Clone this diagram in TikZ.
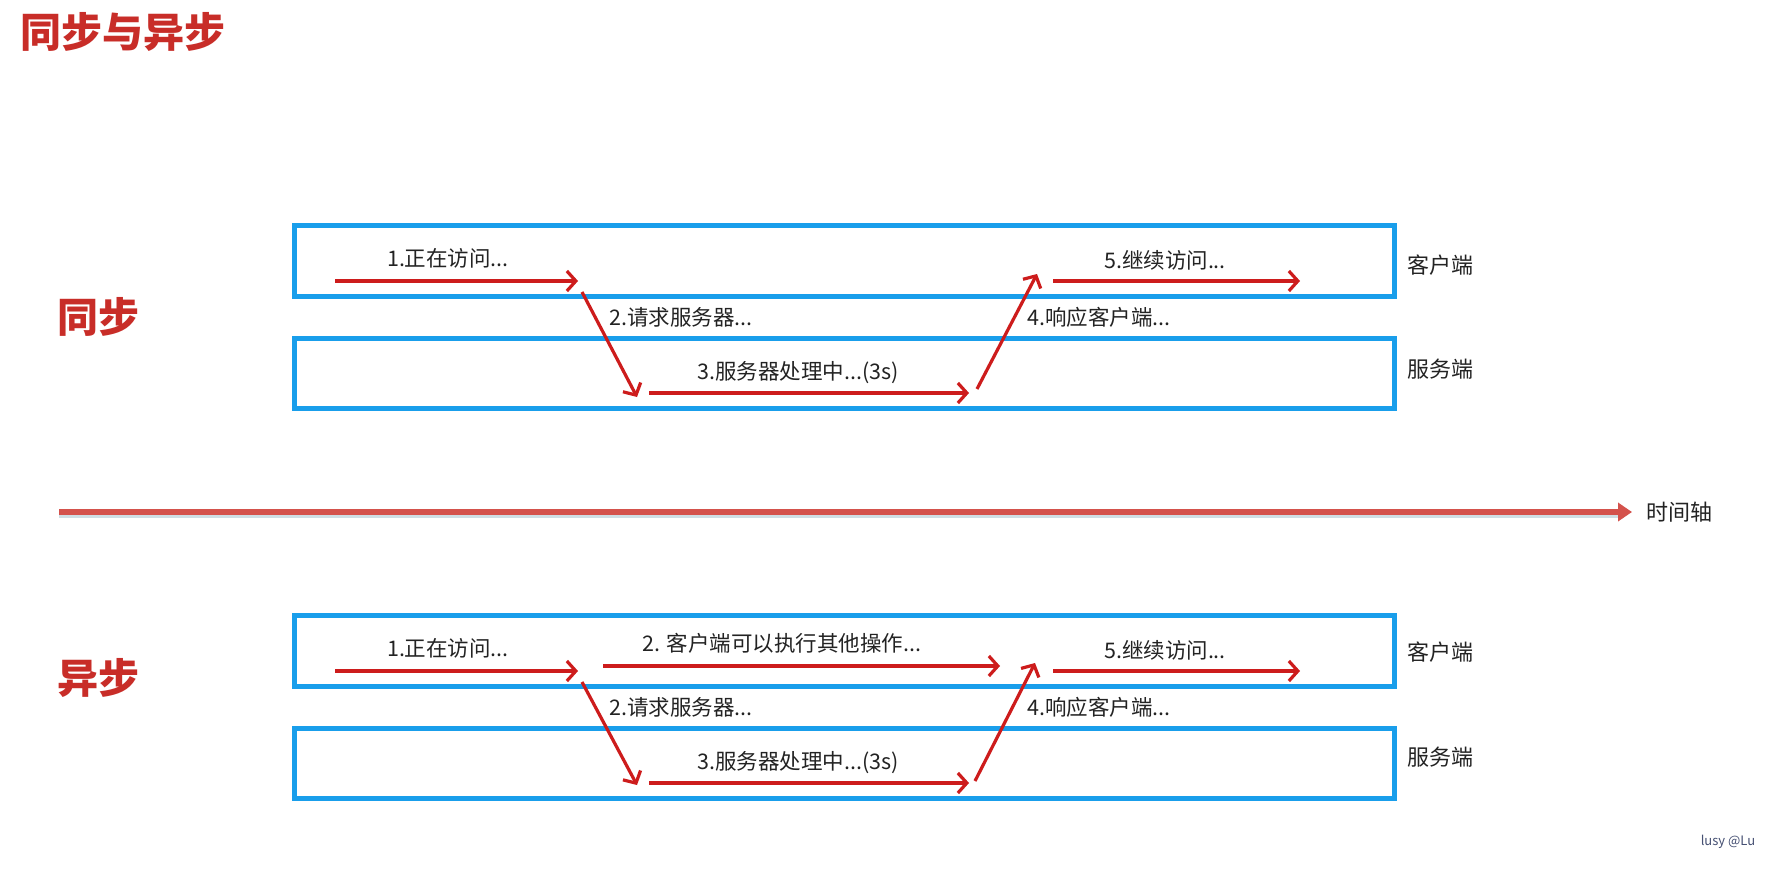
\documentclass[tikz,border=0pt]{standalone}
\usepackage{fontspec}
\setmainfont{Noto Sans CJK SC}
\usetikzlibrary{arrows.meta}
\definecolor{boxblue}{RGB}{25,158,235}
\definecolor{arrred}{RGB}{205,28,28}
\definecolor{titlered}{RGB}{200,45,40}
\definecolor{axisred}{RGB}{212,82,76}
\definecolor{axisshadow}{RGB}{175,200,210}
\definecolor{txt}{RGB}{35,35,35}
\definecolor{mark}{RGB}{70,80,115}
\begin{document}
\begin{tikzpicture}[x=1pt,y=-1pt,
 lane/.style={draw=boxblue,line width=4.5pt,minimum width=1100pt,inner sep=0pt,anchor=north west},
 flow/.style={draw=arrred,line width=3.2pt,-{Straight Barb[length=9pt,width=20pt]}},
 lbl/.style={font=\fontsize{21.5}{24}\selectfont,text=txt,inner sep=0pt},
 side/.style={font=\fontsize{22}{26}\selectfont,text=txt,inner sep=0pt},
 big/.style={font=\fontsize{41}{48}\selectfont\bfseries,text=titlered,inner sep=0pt}]
\useasboundingbox (0,0) rectangle (1777,870);
\fill[white] (0,0) rectangle (1777,870);

% title and section labels
\node[big,anchor=west] (title) at (20,32) {同步与异步};
\node[big] (sync) at (98,317) {同步};
\node[big] (async) at (98,678) {异步};

% lanes
\node[lane,minimum height=71pt] (sc) at (292,223) {};
\node[lane,minimum height=70pt] (ss) at (292,336) {};
\node[lane,minimum height=71pt] (ac) at (292,613) {};
\node[lane,minimum height=70pt] (as) at (292,726) {};
\node[side] (scl) at (1440,265) {客户端};
\node[side] (ssl) at (1440,369) {服务端};
\node[side] (acl) at (1440,652) {客户端};
\node[side] (asl) at (1440,757) {服务端};

% time axis
\coordinate (t0) at (59,512);
\coordinate (t1) at (1632,512);
\draw[axisshadow,line width=3pt,opacity=0.6] ([yshift=-4pt]t0) -- ([yshift=-4pt,xshift=-14pt]t1);
\draw[axisred,line width=6pt,-{Triangle[length=14pt,width=18pt]}] (t0) -- (t1);
\node[side,anchor=west] (tl) at (1646,512) {时间轴};

% synchronous flow
\coordinate (s1a) at (335,281); \coordinate (s1b) at (578,281);
\coordinate (s2a) at (582,292); \coordinate (s2b) at (637,397);
\coordinate (s3a) at (649,393); \coordinate (s3b) at (969,393);
\coordinate (s4a) at (977,389); \coordinate (s4b) at (1037,274);
\coordinate (s5a) at (1053,281); \coordinate (s5b) at (1300,281);
\draw[flow] (s1a) -- (s1b);
\draw[flow] (s2a) -- (s2b);
\draw[flow] (s3a) -- (s3b);
\draw[flow] (s4a) -- (s4b);
\draw[flow] (s5a) -- (s5b);
\node[lbl] (sl1) at (448,258) {1.正在访问...};
\node[lbl,anchor=west] (sl2) at (609,317) {2.请求服务器...};
\node[lbl] (sl3) at (798,373) {3.服务器处理中...(3s)};
\node[lbl,anchor=west] (sl4) at (1027,317) {4.响应客户端...};
\node[lbl] (sl5) at (1165,260) {5.继续访问...};

% asynchronous flow
\coordinate (a1a) at (335,671); \coordinate (a1b) at (578,671);
\coordinate (a6a) at (603,666); \coordinate (a6b) at (1000,666);
\coordinate (a2a) at (582,682); \coordinate (a2b) at (637,785);
\coordinate (a3a) at (649,783); \coordinate (a3b) at (969,783);
\coordinate (a4a) at (975,781); \coordinate (a4b) at (1035,663);
\coordinate (a5a) at (1053,671); \coordinate (a5b) at (1300,671);
\draw[flow] (a1a) -- (a1b);
\draw[flow] (a6a) -- (a6b);
\draw[flow] (a2a) -- (a2b);
\draw[flow] (a3a) -- (a3b);
\draw[flow] (a4a) -- (a4b);
\draw[flow] (a5a) -- (a5b);
\node[lbl] (al1) at (448,648) {1.正在访问...};
\node[lbl] (al6) at (782,643) {2. 客户端可以执行其他操作...};
\node[lbl,anchor=west] (al2) at (609,707) {2.请求服务器...};
\node[lbl] (al3) at (798,763) {3.服务器处理中...(3s)};
\node[lbl,anchor=west] (al4) at (1027,707) {4.响应客户端...};
\node[lbl] (al5) at (1165,650) {5.继续访问...};

% watermark
\node[font=\fontsize{13}{15}\selectfont,text=mark,inner sep=0pt] (wm) at (1728,842) {lusy @Lu};
\end{tikzpicture}
\end{document}
